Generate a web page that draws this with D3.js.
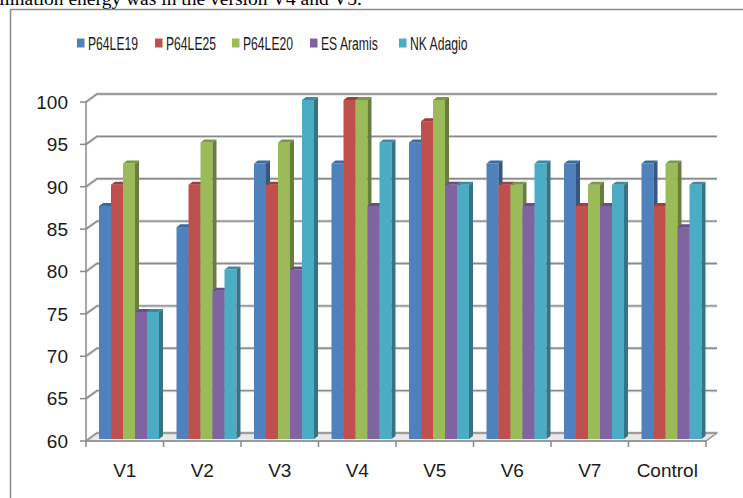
<!DOCTYPE html>
<html>
<head>
<meta charset="utf-8">
<script src="https://cdn.jsdelivr.net/npm/d3@7"></script>
<style>
  body { margin: 0; background: #fff; }
  svg { display: block; }
</style>
</head>
<body>
<div id="wrapper"></div>
<script>
// data
let categories = ['V1', 'V2', 'V3', 'V4', 'V5', 'V6', 'V7', 'Control'];
let seriesNames = ['P64LE19', 'P64LE25', 'P64LE20', 'ES Aramis', 'NK Adagio'];
let p64le19 = [87.5, 85, 92.5, 92.5, 95, 92.5, 92.5, 92.5];
let p64le25 = [90, 90, 90, 100, 97.5, 90, 87.5, 87.5];
let p64le20 = [92.5, 95, 95, 100, 100, 90, 90, 92.5];
let esAramis = [75, 77.5, 80, 87.5, 90, 87.5, 87.5, 85];
let nkAdagio = [75, 80, 100, 95, 90, 92.5, 90, 90];
let yTicks = [60, 65, 70, 75, 80, 85, 90, 95, 100];
let colors = ['#4F81BD', '#C0504D', '#9BBB59', '#8064A2', '#4BACC6'];

let allSeries = [p64le19, p64le25, p64le20, esAramis, nkAdagio];

const W = 743, H = 498;
let svg = d3.select('#wrapper').append('svg').attr('width', W).attr('height', H);

// caption text above the chart (cut off by the crop, like the reference)
svg.append('text')
  .attr('x', 362).attr('y', 5)
  .attr('text-anchor', 'end')
  .style('font-family', '"Liberation Serif", "Times New Roman", serif')
  .style('font-size', '19.5px')
  .text('germination energy was in the version V4 and V5.');

// chart frame
svg.append('rect')
  .attr('x', 10.5).attr('y', 9.5).attr('width', 900).attr('height', 600)
  .attr('fill', 'none').attr('stroke', '#8c8c8c').attr('stroke-width', 1.5);

// 3d depth of the back wall
let dx = 11, dy = -8;

let x = d3.scaleBand().domain(categories).range([86, 706]);
let y = d3.scaleLinear().domain([60, 100]).range([441, 102]);
let xi = d3.scaleBand().domain(seriesNames).range([13, 73]);

// floor
let floor = svg.append('g');
floor.append('path')
  .attr('d', `M${x.range()[0]},${y(60)} L${x.range()[1]},${y(60)} L${x.range()[1] + dx},${y(60) + dy} L${x.range()[0] + dx},${y(60) + dy} Z`)
  .attr('fill', '#e9e9e9').attr('stroke', '#a6a6a6').attr('stroke-width', 1.2);

// back wall gridlines + left wall diagonals
let grid = svg.append('g').classed('grid', true);
yTicks.forEach(t => {
  let yf = y(t), yb = y(t) + dy;
  grid.append('path')
    .attr('d', `M${x.range()[0]},${yf} L${x.range()[0] + dx},${yb} L${x.range()[1] + dx},${yb}`)
    .attr('fill', 'none').attr('stroke', '#d4d4d4').attr('stroke-width', 3);
  grid.append('path')
    .attr('d', `M${x.range()[0]},${yf} L${x.range()[0] + dx},${yb} L${x.range()[1] + dx},${yb}`)
    .attr('fill', 'none').attr('stroke', '#8a8a8a').attr('stroke-width', 1.3);
});

// right end of floor edge
svg.append('path')
  .attr('d', `M${x.range()[1]},${y(60)} L${x.range()[1] + dx},${y(60) + dy}`)
  .attr('stroke', '#9a9a9a').attr('stroke-width', 1.3);

// y axis (front)
let yAxis = svg.append('g');
yAxis.append('line')
  .attr('x1', x.range()[0]).attr('x2', x.range()[0])
  .attr('y1', y(100)).attr('y2', y(60))
  .attr('stroke', '#8a8a8a').attr('stroke-width', 1.5);
yAxis.selectAll('.ytick').data(yTicks).enter().append('line')
  .attr('x1', x.range()[0] - 6).attr('x2', x.range()[0])
  .attr('y1', d => y(d)).attr('y2', d => y(d))
  .attr('stroke', '#8a8a8a').attr('stroke-width', 1.5);
yAxis.selectAll('.ylab').data(yTicks).enter().append('text')
  .attr('x', 68).attr('y', d => y(d))
  .attr('dy', '0.36em')
  .attr('text-anchor', 'end')
  .style('font-family', '"Liberation Sans", Arial, sans-serif')
  .style('font-size', '19px')
  .attr('fill', '#1a1a1a')
  .text(d => d);

// x axis line + category ticks
let xAxis = svg.append('g');
xAxis.append('line')
  .attr('x1', x.range()[0]).attr('x2', x.range()[1])
  .attr('y1', y(60)).attr('y2', y(60))
  .attr('stroke', '#8a8a8a').attr('stroke-width', 1.5);
let bounds = categories.map(c => x(c)).concat([x.range()[1]]);
xAxis.selectAll('.xtick').data(bounds).enter().append('line')
  .attr('x1', d => d).attr('x2', d => d)
  .attr('y1', y(60)).attr('y2', y(60) + 6)
  .attr('stroke', '#8a8a8a').attr('stroke-width', 1.5);
xAxis.selectAll('.xlab').data(categories).enter().append('text')
  .attr('x', d => x(d) + x.bandwidth() / 2)
  .attr('y', 477)
  .attr('text-anchor', 'middle')
  .style('font-family', '"Liberation Sans", Arial, sans-serif')
  .style('font-size', '19px')
  .attr('fill', '#1a1a1a')
  .text(d => d);

// bars: front face, top face, side face
let bd = 4, bdy = -3;      // bar depth
let bx = 0, by = -2;       // bar plane behind the front axis
let bars = categories.flatMap((c, ci) => seriesNames.map((s, si) => ({
  cat: c, name: s, value: allSeries[si][ci], color: colors[si]
})));

let barG = svg.append('g').selectAll('g.bar').data(bars).enter().append('g').classed('bar', true);
barG.each(function(d) {
  let g = d3.select(this);
  let x0 = x(d.cat) + xi(d.name) + bx;
  let w = xi.bandwidth();
  let yTop = y(d.value) + by;
  let yBot = y(60) + by;
  let c = d3.color(d.color);
  g.append('rect')
    .attr('x', x0).attr('y', yTop).attr('width', w).attr('height', yBot - yTop)
    .attr('fill', d.color);
  g.append('path')
    .attr('d', `M${x0},${yTop} L${x0 + bd},${yTop + bdy} L${x0 + w + bd},${yTop + bdy} L${x0 + w},${yTop} Z`)
    .attr('fill', c.darker(0.6));
  g.append('path')
    .attr('d', `M${x0 + w},${yTop} L${x0 + w + bd},${yTop + bdy} L${x0 + w + bd},${yBot + bdy} L${x0 + w},${yBot} Z`)
    .attr('fill', c.darker(1.1));
});

// legend
let legendX = [77, 155, 232, 310, 399];
let legend = svg.append('g').selectAll('g.leg').data(seriesNames).enter().append('g')
  .attr('transform', (d, i) => `translate(${legendX[i]}, 43)`);
legend.append('rect')
  .attr('x', 0).attr('y', -4.5).attr('width', 7.5).attr('height', 9)
  .attr('fill', (d, i) => colors[i]);
legend.append('text')
  .attr('transform', 'translate(11, 0) scale(0.64, 1)')
  .attr('dy', '0.36em')
  .style('font-family', '"Liberation Sans", Arial, sans-serif')
  .style('font-size', '19px')
  .attr('fill', '#1a1a1a')
  .text(d => d);
</script>
</body>
</html>
